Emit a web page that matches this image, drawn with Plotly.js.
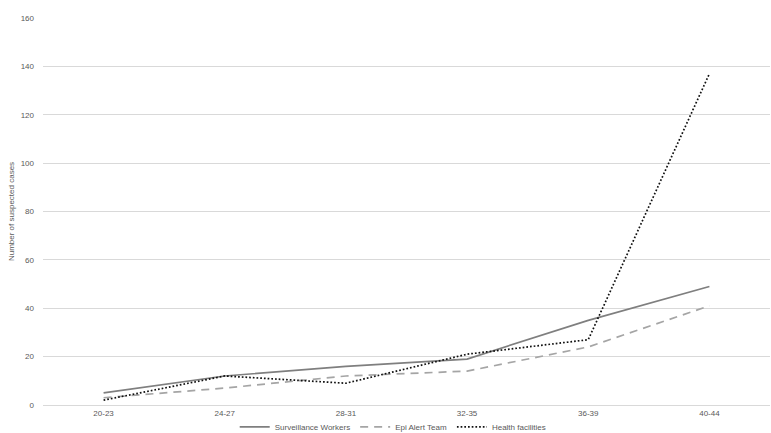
<!DOCTYPE html>
<html>
<head>
<meta charset="utf-8">
<script src="https://cdn.plot.ly/plotly-3.0.1.min.js"></script>
<style>
  html, body { margin: 0; padding: 0; background: #ffffff; }
  #chart { width: 771px; height: 433px; }
</style>
</head>
<body>
<div id="chart"></div>
<script>
// Epidemiological week groups
const weeks = ["20-23", "24-27", "28-31", "32-35", "36-39", "40-44"];

// Suspected cases reported by each source
const surveillanceWorkers = [5, 12, 16, 19, 35, 49];
const epiAlertTeam = [3, 7, 12, 14, 24, 41];
const healthFacilities = [2, 12, 9, 21, 27, 137];

const traces = [
  {
    x: weeks, y: surveillanceWorkers, name: "Surveillance Workers",
    type: "scatter", mode: "lines",
    line: { color: "#7f7f7f", width: 1.7, dash: "solid" }
  },
  {
    x: weeks, y: epiAlertTeam, name: "Epi Alert Team",
    type: "scatter", mode: "lines",
    line: { color: "#a5a5a5", width: 1.7, dash: "8px,6px" }
  },
  {
    x: weeks, y: healthFacilities, name: "Health facilities",
    type: "scatter", mode: "lines",
    line: { color: "#111111", width: 1.7, dash: "1.7px,2px" }
  }
];

const layout = {
  width: 771,
  height: 433,
  margin: { l: 43, r: 1, t: 18, b: 28 },
  paper_bgcolor: "#ffffff",
  plot_bgcolor: "#ffffff",
  font: { family: "Liberation Sans, Arial, sans-serif", size: 8, color: "#595959" },
  xaxis: {
    type: "category",
    range: [-0.5, 5.5],
    showgrid: false,
    zeroline: false,
    showline: false,
    ticks: "",
    ticklabelstandoff: 2,
    tickfont: { size: 8, color: "#595959" }
  },
  yaxis: {
    range: [0, 160],
    dtick: 20,
    showgrid: true,
    gridcolor: "#d9d9d9",
    gridwidth: 1,
    zeroline: true,
    zerolinecolor: "#d9d9d9",
    zerolinewidth: 1,
    showline: false,
    ticks: "",
    ticklabelstandoff: 8,
    tickfont: { size: 8, color: "#595959" },
    title: { text: "Number of suspected cases", font: { size: 8, color: "#595959" }, standoff: 4 }
  },
  showlegend: true,
  legend: {
    orientation: "h",
    xref: "container", yref: "container",
    x: 0.51, xanchor: "center",
    y: 0.014, yanchor: "middle",
    bgcolor: "rgba(0,0,0,0)",
    font: { size: 8, color: "#595959" },
    itemwidth: 30,
    tracegroupgap: 0
  }
};

Plotly.newPlot("chart", traces, layout, { displayModeBar: false, staticPlot: true });
</script>
</body>
</html>
